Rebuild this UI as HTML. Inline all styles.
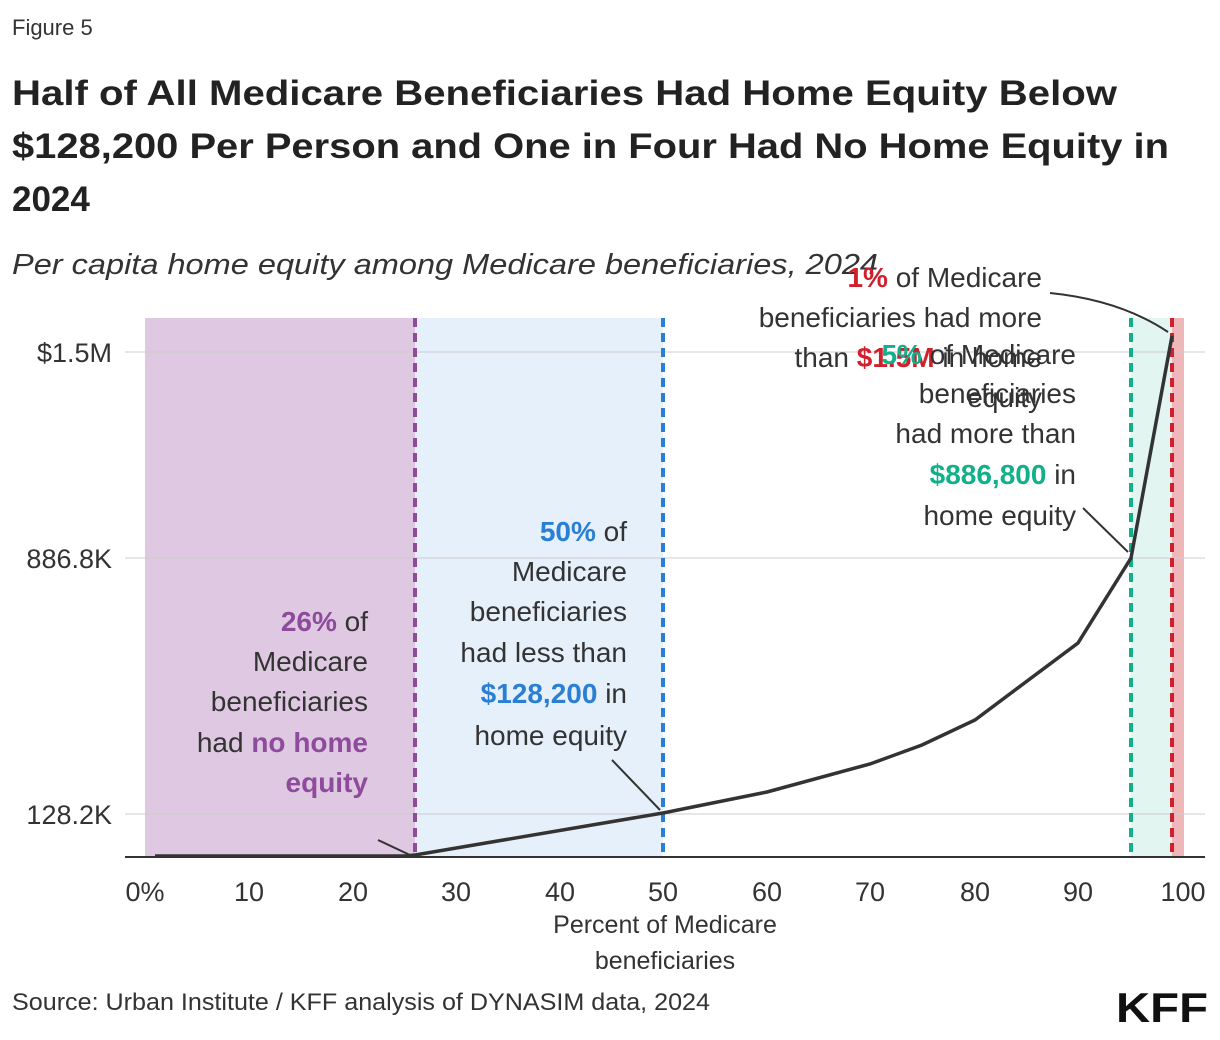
<!DOCTYPE html>
<html><head><meta charset="utf-8"><style>
body{margin:0;background:#fff;}
svg{display:block;font-family:"Liberation Sans",sans-serif;}
</style></head><body>
<svg width="1220" height="1040" viewBox="0 0 1220 1040">
<text x="12" y="35" font-size="22" fill="#333">Figure 5</text>
<g font-size="35" font-weight="bold" fill="#222">
<text x="12" y="105" textLength="1105" lengthAdjust="spacingAndGlyphs">Half of All Medicare Beneficiaries Had Home Equity Below</text>
<text x="12" y="158" textLength="1157" lengthAdjust="spacingAndGlyphs">$128,200 Per Person and One in Four Had No Home Equity in</text>
<text x="12" y="211">2024</text>
</g>
<text x="12" y="274" font-size="29" font-style="italic" fill="#333" textLength="866" lengthAdjust="spacingAndGlyphs">Per capita home equity among Medicare beneficiaries, 2024</text>

<rect x="145" y="318" width="270" height="539" fill="#dfc8e2"/>
<rect x="415" y="318" width="248" height="539" fill="#e5f0fa"/>
<rect x="1131" y="318" width="41" height="539" fill="#e3f5f1"/>
<rect x="1172" y="318" width="12" height="539" fill="#f0b7ba"/>

<g stroke="#ccc" stroke-width="1">
<line x1="125" y1="352" x2="1205" y2="352"/>
<line x1="125" y1="558" x2="1205" y2="558"/>
<line x1="125" y1="814" x2="1205" y2="814"/>
</g>
<g stroke-width="4" stroke-dasharray="9,6">
<line x1="415" y1="318" x2="415" y2="857" stroke="#8e4a9b"/>
<line x1="663" y1="318" x2="663" y2="857" stroke="#2a7fd4"/>
<line x1="1131" y1="318" x2="1131" y2="857" stroke="#12b08a"/>
<line x1="1172" y1="318" x2="1172" y2="857" stroke="#d0202e"/>
</g>
<line x1="125" y1="857" x2="1205" y2="857" stroke="#333" stroke-width="2"/>
<polyline fill="none" stroke="#333" stroke-width="3.5" points="155,856 405,856 415,855 663,813 767,792 870,764 922,745 975,720 1078,643 1131,558 1172,336"/>

<g font-size="27" fill="#333" text-anchor="end">
<text x="145" y="901" text-anchor="middle">0%</text>
<text x="249" y="901" text-anchor="middle">10</text>
<text x="353" y="901" text-anchor="middle">20</text>
<text x="456" y="901" text-anchor="middle">30</text>
<text x="560" y="901" text-anchor="middle">40</text>
<text x="663" y="901" text-anchor="middle">50</text>
<text x="767" y="901" text-anchor="middle">60</text>
<text x="870" y="901" text-anchor="middle">70</text>
<text x="975" y="901" text-anchor="middle">80</text>
<text x="1078" y="901" text-anchor="middle">90</text>
<text x="1183" y="901" text-anchor="middle">100</text>
<text x="112" y="362">$1.5M</text>
<text x="112" y="568">886.8K</text>
<text x="112" y="824">128.2K</text>
</g>
<g font-size="25" fill="#333" text-anchor="middle">
<text x="665" y="933">Percent of Medicare</text>
<text x="665" y="969">beneficiaries</text>
</g>

<g font-size="28" fill="#333" text-anchor="end">
<text x="368" y="631"><tspan fill="#8e4a9b" font-weight="bold">26%</tspan> of</text>
<text x="368" y="671">Medicare</text>
<text x="368" y="711">beneficiaries</text>
<text x="368" y="752">had <tspan fill="#8e4a9b" font-weight="bold">no home</tspan></text>
<text x="368" y="792" fill="#8e4a9b" font-weight="bold">equity</text>

<text x="627" y="541"><tspan fill="#2a7fd4" font-weight="bold">50%</tspan> of</text>
<text x="627" y="581">Medicare</text>
<text x="627" y="621">beneficiaries</text>
<text x="627" y="662">had less than</text>
<text x="627" y="703"><tspan fill="#2a7fd4" font-weight="bold">$128,200</tspan> in</text>
<text x="627" y="745">home equity</text>

<text x="1042" y="287"><tspan fill="#d0202e" font-weight="bold">1%</tspan> of Medicare</text>
<text x="1042" y="327">beneficiaries had more</text>
<text x="1042" y="367">than <tspan fill="#d0202e" font-weight="bold">$1.5M</tspan> in home</text>
<text x="1042" y="407">equity</text>

<text x="1076" y="364"><tspan fill="#12b08a" font-weight="bold">5%</tspan> of Medicare</text>
<text x="1076" y="403">beneficiaries</text>
<text x="1076" y="443">had more than</text>
<text x="1076" y="484"><tspan fill="#12b08a" font-weight="bold">$886,800</tspan> in</text>
<text x="1076" y="525">home equity</text>
</g>
<g stroke="#333" stroke-width="2" fill="none">
<line x1="378" y1="840" x2="412" y2="856"/>
<line x1="612" y1="760" x2="660" y2="810"/>
<line x1="1083" y1="508" x2="1128" y2="552"/>
<path d="M1050,293 Q1120,300 1168,332"/>
</g>

<text x="12" y="1010" font-size="24" fill="#333" textLength="698" lengthAdjust="spacingAndGlyphs">Source: Urban Institute / KFF analysis of DYNASIM data, 2024</text>
<text x="1208" y="1022" font-size="42" font-weight="bold" fill="#111" text-anchor="end" textLength="92" lengthAdjust="spacingAndGlyphs">KFF</text>
</svg>
</body></html>
